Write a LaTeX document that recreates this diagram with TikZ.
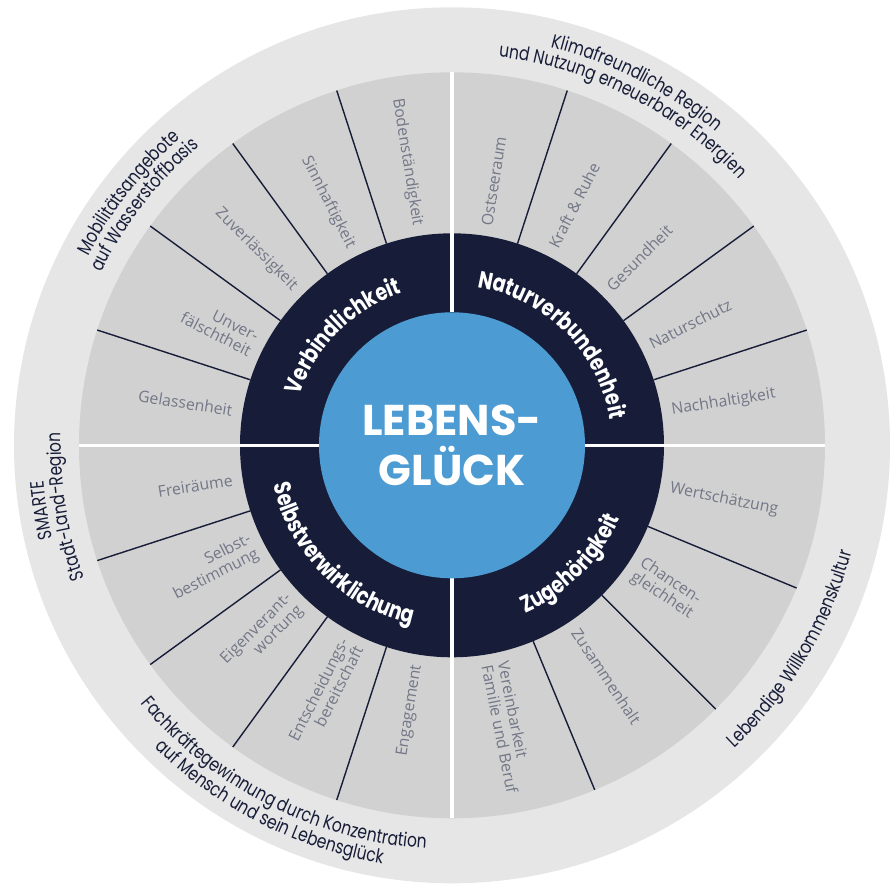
\documentclass[tikz,border=0pt]{standalone}
\usepackage{fontspec}
\setmainfont{Open Sans}
\newfontfamily\geofont{Poppins}[FakeStretch=0.8]
\newfontfamily\corefont{Poppins}
\usetikzlibrary{decorations.text}

\definecolor{outerring}{HTML}{E6E6E6}
\definecolor{segring}{HTML}{D1D1D1}
\definecolor{navy}{HTML}{171D38}
\definecolor{coreblue}{HTML}{4C9BD3}
\definecolor{seggray}{HTML}{737787}

\newcommand{\outerfont}{\geofont\fontsize{11}{11}\selectfont}
\newcommand{\ringfont}{\geofont\bfseries\fontsize{13.5}{13.5}\selectfont}

\begin{document}
\begin{tikzpicture}[x=0.02cm,y=0.02cm,
    seglabel/.style={text=seggray, font=\fontsize{9}{9.5}\selectfont, inner sep=0pt},
    spoke/.style={draw=navy, line width=0.8pt},
    divider/.style={draw=white, line width=1.8pt},
    outerline/.style={decorate, decoration={text along path, text align=center,
        text color=navy, text={|\outerfont|#1}}},
    ringline/.style={decorate, decoration={text along path, text align=center,
        text color=white, text={|\ringfont|#1}}}]
  \useasboundingbox (-452,-440.7) rectangle (438,445.3);

  % rings
  \fill[outerring] (0,0) circle[radius=438];
  \fill[segring] (0,0) circle[radius=373];
  \foreach \ang in {18,36,54,72,108,126,144,162,198,216,234,252,292.5,315,337.5}
    \draw[spoke] (\ang:212) -- (\ang:373);
  \fill[navy] (0,0) circle[radius=212];
  \foreach \ang in {0,90,180,270}
    \draw[divider] (\ang:133) -- (\ang:373);
  \fill[coreblue] (0,0) circle[radius=133];

  \node[text=white, font=\corefont\bfseries\fontsize{24.5}{28.5}\selectfont, align=center]
    (core) at (0,0) {LEBENS-\\GLÜCK};

  % values, right half
  \foreach \ang/\txt [count=\i] in {81/Ostseeraum, 63/Kraft \& Ruhe, 45/Gesundheit,
      27/Naturschutz, 9/Nachhaltigkeit, 348.75/Wertschätzung,
      326.25/{Chancen-\\gleichheit}, 303.75/Zusammenhalt,
      281.25/{Vereinbarkeit\\Familie und Beruf}}
    \node[seglabel, align=left, rotate=\ang, anchor=west] (east\i) at (\ang:222) {\txt};

  % values, left half
  \foreach \ang/\txt [count=\i, evaluate=\ang as \rot using \ang-180] in
      {99/Bodenständigkeit, 117/Sinnhaftigkeit, 135/Zuverlässigkeit,
      153/{Unver-\\fälschtheit}, 171/Gelassenheit, 189/Freiräume,
      207/{Selbst-\\bestimmung}, 225/{Eigenverant-\\wortung},
      243/{Entscheidungs-\\bereitschaft}, 261/Engagement}
    \node[seglabel, align=right, rotate=\rot, anchor=east] (west\i) at (\ang:222) {\txt};

  % inner ring
  \path[ringline=Verbindlichkeit] (225:160) arc[start angle=225, end angle=45, radius=160];
  \path[ringline=Naturverbundenheit] (135:160) arc[start angle=135, end angle=-45, radius=160];
  \path[ringline=Selbstverwirklichung] (135:183) arc[start angle=135, end angle=315, radius=183];
  \path[ringline=Zugehörigkeit] (225:183) arc[start angle=225, end angle=405, radius=183];

  % outer ring
  \path[outerline=Klimafreundliche Region] (153:410) arc[start angle=153, end angle=-27, radius=410];
  \path[outerline=und Nutzung erneuerbarer Energien] (153:391) arc[start angle=153, end angle=-27, radius=391];
  \path[outerline=Mobilitätsangebote] (232:410) arc[start angle=232, end angle=52, radius=410];
  \path[outerline=auf Wasserstoffbasis] (232:391) arc[start angle=232, end angle=52, radius=391];
  \path[outerline=SMARTE] (279:410) arc[start angle=279, end angle=99, radius=410];
  \path[outerline=Stadt-Land-Region] (279:391) arc[start angle=279, end angle=99, radius=391];
  \path[outerline=Fachkräftegewinnung durch Konzentration] (153:404) arc[start angle=153, end angle=333, radius=404];
  \path[outerline=auf Mensch und sein Lebensglück] (153:424) arc[start angle=153, end angle=333, radius=424];
  \path[outerline=Lebendige Willkommenskultur] (239:414) arc[start angle=239, end angle=419, radius=414];
\end{tikzpicture}
\end{document}
